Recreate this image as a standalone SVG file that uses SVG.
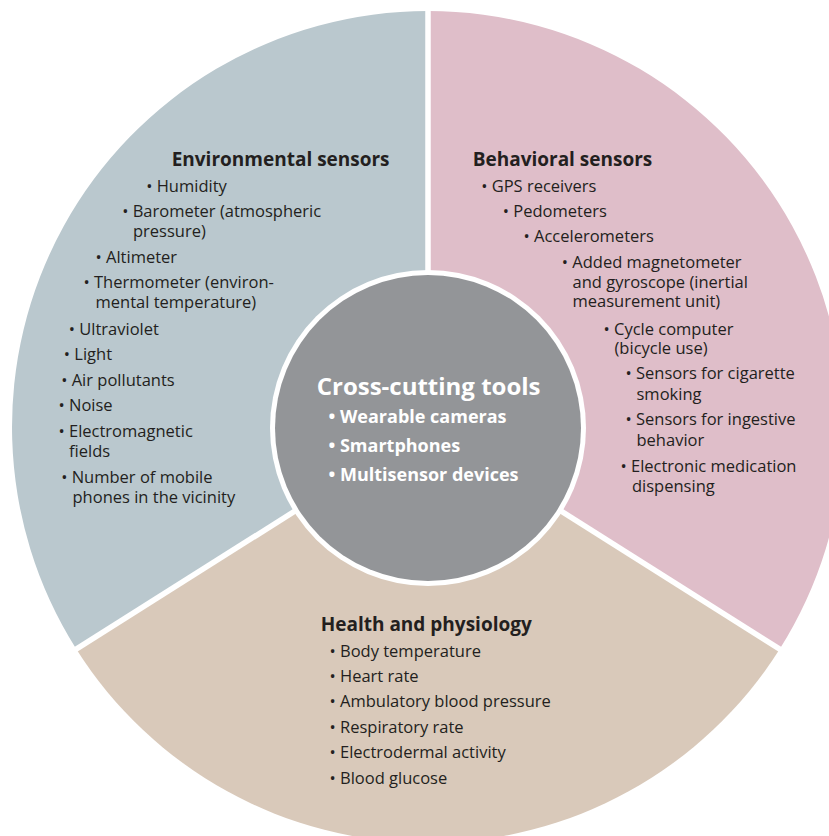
<svg xmlns="http://www.w3.org/2000/svg" width="829" height="836" viewBox="0 0 829 836">
<style>
.t{font-family:"Open Sans","Noto Sans","Liberation Sans",sans-serif;font-size:16.5px;fill:#231f20;}
.h{font-family:"Open Sans","Noto Sans","Liberation Sans",sans-serif;font-size:19px;font-weight:bold;fill:#231f20;}
.ch{font-family:"Open Sans","Noto Sans","Liberation Sans",sans-serif;font-size:24px;font-weight:bold;fill:#ffffff;}
.ci{font-family:"Open Sans","Noto Sans","Liberation Sans",sans-serif;font-size:18px;font-weight:bold;fill:#ffffff;}
.div{stroke:#ffffff;stroke-width:5.5;fill:none;}
</style>
<rect width="829" height="836" fill="#ffffff"/>
<g id="environmental">
<path d="M428,427 L428,11 A416,416 0 0,0 76.4,649.3 Z" fill="#bac8ce"/>
<text class="h" x="171.7" y="166">Environmental sensors</text>
<text class="t" x="146.2" y="191.7">• Humidity</text>
<text class="t" x="122.2" y="216.7">• Barometer (atmospheric<tspan x="133" dy="20">pressure)</tspan></text>
<text class="t" x="95.5" y="262.7">• Altimeter</text>
<text class="t" x="83.5" y="288.3">• Thermometer (environ-<tspan x="95.5" dy="19.4">mental temperature)</tspan></text>
<text class="t" x="68.8" y="335">• Ultraviolet</text>
<text class="t" x="63.8" y="360">• Light</text>
<text class="t" x="61.2" y="386">• Air pollutants</text>
<text class="t" x="58.5" y="410.7">• Noise</text>
<text class="t" x="58.5" y="436.7">• Electromagnetic<tspan x="69" dy="20">fields</tspan></text>
<text class="t" x="61.2" y="482.7">• Number of mobile<tspan x="72.5" dy="20">phones in the vicinity</tspan></text>
</g>
<g id="behavioral">
<path d="M428,427 L428,11 A416,416 0 0,1 779.6,649.3 Z" fill="#dfbec9"/>
<text class="h" x="472.7" y="166">Behavioral sensors</text>
<text class="t" x="481.2" y="191.7">• GPS receivers</text>
<text class="t" x="502.8" y="216.7">• Pedometers</text>
<text class="t" x="523.5" y="241.7">• Accelerometers</text>
<text class="t" x="561.8" y="268.3">• Added magnetometer<tspan x="572.5" dy="20">and gyroscope (inertial</tspan><tspan x="572.5" dy="18.4">measurement unit)</tspan></text>
<text class="t" x="603.5" y="335">• Cycle computer<tspan x="614.5" dy="18.5">(bicycle use)</tspan></text>
<text class="t" x="625.5" y="379.3">• Sensors for cigarette<tspan x="636.5" dy="20.2">smoking</tspan></text>
<text class="t" x="625.5" y="425">• Sensors for ingestive<tspan x="636.5" dy="21">behavior</tspan></text>
<text class="t" x="620.5" y="471.7">• Electronic medication<tspan x="632" dy="20">dispensing</tspan></text>
</g>
<g id="health">
<path d="M428,427 L76.4,649.3 A416,416 0 0,0 779.6,649.3 Z" fill="#d9c9ba"/>
<text class="h" x="320.7" y="630.7">Health and physiology</text>
<text class="t" x="329.5" y="656.7">• Body temperature</text>
<text class="t" x="329.5" y="681.7">• Heart rate</text>
<text class="t" x="329.5" y="707.3">• Ambulatory blood pressure</text>
<text class="t" x="329.5" y="732.7">• Respiratory rate</text>
<text class="t" x="329.5" y="758.3">• Electrodermal activity</text>
<text class="t" x="329.5" y="784">• Blood glucose</text>
</g>
<g id="dividers">
<line class="div" x1="428" y1="427" x2="428" y2="0"/>
<line class="div" x1="428" y1="427" x2="60" y2="659.4"/>
<line class="div" x1="428" y1="427" x2="796" y2="659.4"/>
</g>
<g id="cross-cutting">
<circle cx="428" cy="428" r="158" fill="#ffffff"/>
<circle cx="428" cy="428" r="153" fill="#939598"/>
<text class="ch" x="316.7" y="395">Cross-cutting tools</text>
<text class="ci" x="328.5" y="423.3">• Wearable cameras</text>
<text class="ci" x="328.5" y="452.3">• Smartphones</text>
<text class="ci" x="328.5" y="481">• Multisensor devices</text>
</g>
</svg>
